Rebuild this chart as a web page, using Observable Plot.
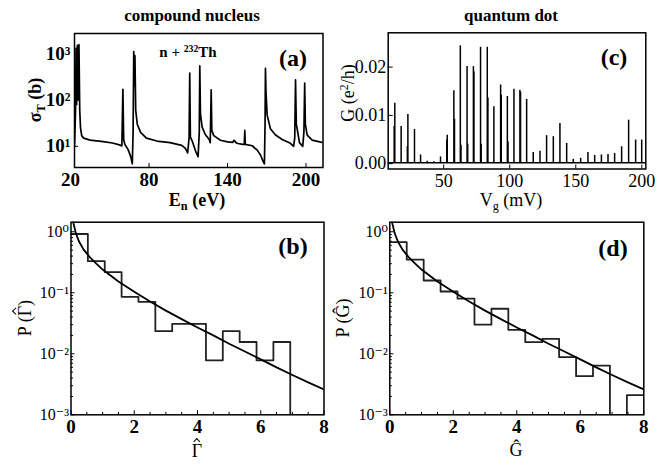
<!DOCTYPE html>
<html><head><meta charset="utf-8">
<script src="https://cdn.jsdelivr.net/npm/d3@7"></script>
<script src="https://cdn.jsdelivr.net/npm/@observablehq/plot@0.6"></script>
<style>
body{margin:0;background:#fff;}
#fig{position:relative;width:672px;height:466px;overflow:hidden;font-family:"Liberation Serif","DejaVu Serif",serif;color:#000;background:#fff;}
.t{position:absolute;white-space:nowrap;font-weight:bold;line-height:1;transform:translate(-50%,-50%);}
.r{transform:translate(-50%,-50%) rotate(-90deg);}
.sb{font-size:68%;position:relative;top:0.3em;}
.sp{font-size:65%;position:relative;top:-0.5em;}
.hat{position:relative;display:inline-block;}
.hat::before{content:"";position:absolute;left:50%;top:-0.16em;width:0.2em;height:0.2em;border-left:1px solid #000;border-top:1px solid #000;transform:translateX(-50%) rotate(45deg);}
</style></head><body><div id="fig"></div>
<script>
// ---- panel (a): n + 232Th total cross-section ----
const energy = [23.0,23.8,24.2,24.6,25.2,25.8,26.4,27.0,27.6,28.5,30,35,45,52,58,59.2,60.0,60.6,61.5,64,66,67.2,67.8,68.3,68.8,69.2,69.8,71,73.5,78,86,96,105,107.8,109.5,110.6,111.1,111.6,113,115.5,117.5,118.4,118.8,119.3,120.6,123,126,126.8,127.5,128,129.5,134.6,140,144,145,146.5,148,151.5,152.8,153.2,153.6,158.9,162.7,165.2,167.3,168.2,168.7,169,169.4,170.3,172.8,176.7,181.8,188.1,190.5,191.4,192,192.6,193.7,195,197.5,198.4,199,199.5,200.9,204.7,213.1];
const sigma = [10,60,1300,80,1500,100,1550,60,25,17,15,13.6,12.6,11.8,10.6,10.2,170,14,11,8.5,6,4.2,20,1100,200,900,60,30,20,15,13,12,10.5,9,7.2,15,380,16,13,8,6,20,540,50,26,18,14,12,165,22,17,13.5,12.5,12.2,13.5,12,11.5,11,11,22,11,10.3,8.3,6.5,4.7,4.2,30,480,150,47,24,17.5,14,11.6,10,15,270,30,20,12,10,20,230,30,17.5,13.6,12];
const ticksAx = [20,80,140,200];
const ticksAy = [10,100,1000];

// ---- panel (c): quantum dot conductance peaks ----
const peakV = [13.0,17.8,22.9,27.9,32.5,37.5,42.5,47.6,52.7,57.7,62.6,67.7,72.5,77.9,83.0,88.0,93.1,98.2,103.2,107.7,112.8,117.8,122.9,127.9,133.0,138.0,143.1,148.1,153.7,159.2,164.3,169.4,174.4,179.4,184.7,190.0,195.3,199.9];
const peakG = [0.0125,0.0077,0.0102,0.0071,0.0018,0.0005,0.0004,0.0014,0.0059,0.0151,0.0244,0.0201,0.0201,0.0241,0.0241,0.0118,0.0163,0.0139,0.0154,0.0152,0.0133,0.0023,0.0026,0.0058,0.0056,0.0083,0.0042,0.0009,0.0011,0.0023,0.0017,0.0018,0.0019,0.0021,0.0035,0.0090,0.0049,0.0049];
const shoulderV = [12.4,22.4,52.2,58.3,63.2,68.3,73.0,78.5,83.6,93.7,98.8,108.3];
const shoulderG = [0.0077,0.0035,0.0049,0.0092,0.0038,0.0040,0.0190,0.0040,0.0136,0.0142,0.0045,0.0148];
const baseG = 0.0002;
const ticksCx = [50,100,150,200];
const ticksCy = [0,0.01,0.02];

// ---- panels (b),(d): histograms + Porter-Thomas curve ----
const binEdges = [0,0.533,1.067,1.6,2.133,2.667,3.2,3.733,4.267,4.8,5.333,5.867,6.4,6.933,7.467,8];
const widthHist = [0.92,0.33,0.218,0.086,0.071,0.0235,0.031,0.031,0.0078,0.0235,0.0156,0.0078,0.0156,0,0];
const condHist = [0.675,0.35,0.159,0.105,0.080,0.030,0.0547,0.0247,0.0155,0.0176,0.0088,0.0043,0.0064,0,0.0021];
const ptX = [0.05,0.08,0.15,0.25,0.4,0.6,0.8,1.0,1.5,2.0,2.5,3.0,3.5,4.0,4.5,5.0,5.5,6.0,6.5,7.0,7.5,8.0];
const ptP = [1.75,1.37,0.96,0.70,0.51,0.38,0.30,0.24,0.153,0.104,0.072,0.051,0.037,0.027,0.020,0.0146,0.0109,0.0081,0.0060,0.0045,0.0034,0.0026];
const ticksBx = [0,2,4,6,8];
const minorBx = [0.5,1,1.5,2.5,3,3.5,4.5,5,5.5,6.5,7,7.5];
const ticksBy = [0.001,0.01,0.1,1];
const minorBy = [2,3,4,5,6,7,8,9].flatMap(m => [m*0.001, m*0.01, m*0.1]);
const pFloor = 0.001, pTop = 1.435;

const supMap = {"-":"⁻","0":"⁰","1":"¹","2":"²","3":"³"};
const pow10 = d => "10" + String(Math.round(Math.log10(d))).split("").map(c => supMap[c]).join("");
const blank = () => "";
const FONT = "'Liberation Serif', 'DejaVu Serif', serif";

const fig = document.getElementById("fig");
function place(el, left, top) {
  el.style.position = "absolute"; el.style.left = left + "px"; el.style.top = top + "px";
  fig.appendChild(el);
}
const baseStyle = (size, weight) => ({background:"transparent", fontFamily: FONT, fontSize: size + "px", fontWeight: weight, color:"#000", overflow:"visible"});

// (a)
const aData = energy.map((E, i) => ({E, s: sigma[i]}));
const A = Plot.plot({
  width: 336, height: 230, marginLeft: 74, marginRight: 13.5, marginTop: 33, marginBottom: 63,
  style: baseStyle(19, "bold"),
  x: {domain: [23, 213]},
  y: {type: "log", domain: [3.5, 2700]},
  marks: [
    Plot.line(aData, {x: "E", y: "s", stroke: "#000", strokeWidth: 1.7, clip: true}),
    Plot.frame({stroke: "#000", strokeWidth: 1.5}),
    Plot.axisX({ticks: ticksAx, tickSize: 0, tickPadding: 5, tickFormat: d => String(d), label: null}),
    Plot.axisX({ticks: ticksAx.slice(1), tickSize: -4, tickFormat: blank, label: null}),
    Plot.axisY({ticks: ticksAy, tickSize: 0, tickPadding: 4, tickFormat: pow10, label: null}),
    Plot.axisY({ticks: ticksAy, tickSize: -4, tickFormat: blank, label: null})
  ]
});
place(A, 0, 0);

// (c)
const cPeaks = peakV.map((v, i) => ({v, g: peakG[i]}));
const cSh = shoulderV.map((v, i) => ({v, g: shoulderG[i]}));
const C = Plot.plot({
  width: 336, height: 230, marginLeft: 51.7, marginRight: 26.7, marginTop: 32.3, marginBottom: 61.5,
  style: baseStyle(18, "normal"),
  x: {domain: [8, 203]},
  y: {domain: [-0.0011, 0.0271]},
  marks: [
    Plot.ruleY([baseG], {stroke: "#000", strokeWidth: 1.6}),
    Plot.ruleX(cSh, {x: "v", y1: baseG, y2: "g", stroke: "#000", strokeWidth: 1.2}),
    Plot.ruleX(cPeaks, {x: "v", y1: baseG, y2: "g", stroke: "#000", strokeWidth: 1.5}),
    Plot.frame({stroke: "#000", strokeWidth: 1.5}),
    Plot.axisX({ticks: ticksCx, tickSize: 0, tickPadding: 5, tickFormat: d => String(d), label: null}),
    Plot.axisX({ticks: ticksCx, tickSize: -4, tickFormat: blank, label: null}),
    Plot.axisY({ticks: ticksCy, tickSize: 0, tickPadding: 2, tickFormat: d3.format(".2f"), label: null}),
    Plot.axisY({ticks: ticksCy, tickSize: -5, tickFormat: blank, label: null})
  ]
});
place(C, 336, 0);

// (b),(d)
function histPanel(hist, ml, mr) {
  const steps = binEdges.map((x, i) => ({x, p: Math.max(hist[Math.min(i, hist.length - 1)], pFloor)}));
  const curve = ptX.map((x, i) => ({x, p: ptP[i]}));
  return Plot.plot({
    width: 336, height: 266, marginLeft: ml, marginRight: mr, marginTop: 21.7, marginBottom: 51.7,
    style: baseStyle(16, "normal"),
    x: {domain: [0, 8]},
    y: {type: "log", domain: [pFloor, pTop]},
    marks: [
      Plot.line(steps, {x: "x", y: "p", curve: "step-after", stroke: "#222", strokeWidth: 1.8, clip: true}),
      Plot.line(curve, {x: "x", y: "p", stroke: "#000", strokeWidth: 1.8, clip: true}),
      Plot.frame({stroke: "#000", strokeWidth: 1.5}),
      Plot.axisX({ticks: ticksBx, tickSize: 0, tickPadding: 5, tickFormat: d => String(d), fontSize: 19, fontWeight: "bold", label: null}),
      Plot.axisX({ticks: ticksBx, tickSize: -4, tickFormat: blank, label: null}),
      Plot.axisX({ticks: minorBx, tickSize: -2.5, tickFormat: blank, label: null}),
      Plot.axisY({ticks: ticksBy, tickSize: 0, tickPadding: 2, tickFormat: pow10, label: null}),
      Plot.axisY({ticks: ticksBy, tickSize: -4, tickFormat: blank, label: null}),
      Plot.axisY({ticks: minorBy, tickSize: -2.5, tickFormat: blank, label: null})
    ]
  });
}
place(histPanel(widthHist, 70.5, 12.5), 0, 200);
place(histPanel(condHist, 53.3, 28.7), 336, 200);

// text overlays
function label(html, x, y, size, cls = "", weight = "bold") {
  const d = document.createElement("div");
  d.className = "t " + cls;
  d.style.left = x + "px"; d.style.top = y + "px"; d.style.fontSize = size + "px"; d.style.fontWeight = weight;
  d.innerHTML = html;
  fig.appendChild(d);
}
const GammaHat = '<span class="hat">Γ</span>';
label("compound nucleus", 192, 15, 17);
label("quantum dot", 511, 15, 17);
label('E<span class="sb">n</span> (eV)', 197, 200, 18);
label('V<span class="sb">g</span> (mV)', 511, 200, 18, "", "normal");
label('σ<span class="sb">T</span> (b)', 35, 100, 18, "r");
label('G (e<span class="sp">2</span>/h)', 348, 93, 18, "r", "normal");
label('P (' + GammaHat + ')', 25, 318, 18, "r", "normal");
label('P (\u011C)', 343, 318, 18, "r", "normal");
label(GammaHat, 197, 451, 18, "", "normal");
label('\u011C', 516, 450, 18, "", "normal");
label('(a)', 293, 58, 24);
label('(c)', 614, 57, 24);
label('(b)', 293, 246, 24);
label('(d)', 613, 248, 24);
label('n + <span class="sp">232</span>Th', 188, 52, 15);
</script></body></html>
